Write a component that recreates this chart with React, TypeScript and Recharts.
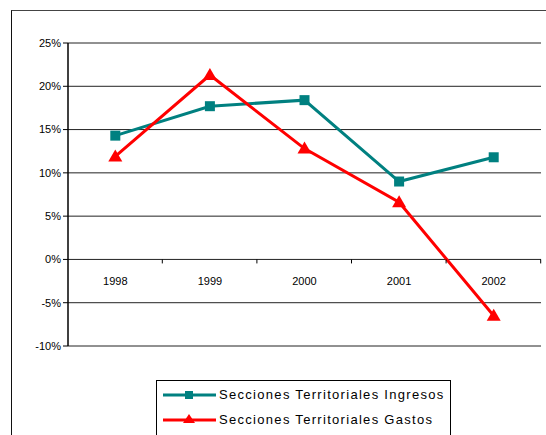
import React from "react";
import {
  LineChart,
  Line,
  XAxis,
  YAxis,
  CartesianGrid,
  Legend,
  ReferenceDot,
} from "recharts";

const years = ["1998", "1999", "2000", "2001", "2002"];
const ingresos = [14.3, 17.7, 18.4, 9.0, 11.8];
const gastos = [11.9, 21.3, 12.8, 6.6, -6.5];
const yTicks = [-10, -5, 0, 5, 10, 15, 20, 25];

const TEAL = "#008080";
const RED = "#ff0000";
const FONT = "'Liberation Sans', Arial, sans-serif";

const data = years.map((y, i) => ({
  year: y,
  ingresos: ingresos[i],
  gastos: gastos[i],
}));

const Square = (p: any) => (
  <rect key={p.index} x={p.cx - 5} y={p.cy - 5} width={10} height={10} fill={TEAL} />
);

const Triangle = (p: any) => (
  <polygon
    key={p.index}
    points={`${p.cx},${p.cy - 7} ${p.cx - 7},${p.cy + 5} ${p.cx + 7},${p.cy + 5}`}
    fill={RED}
  />
);

// year label under the zero line plus a tick between categories
const YearMark = (p: any) => (
  <g>
    <text
      x={p.cx}
      y={p.cy + 26}
      textAnchor="middle"
      fontSize={11}
      fontFamily={FONT}
      fill="#000"
    >
      {p.label}
    </text>
    <line x1={p.cx + 47} x2={p.cx + 47} y1={p.cy} y2={p.cy + 4} stroke="#000" />
  </g>
);

const series = [
  { name: "Secciones Territoriales Ingresos", color: TEAL, shape: "square" },
  { name: "Secciones Territoriales Gastos", color: RED, shape: "triangle" },
];

const LegendBox = () => (
  <div
    style={{
      border: "1px solid #000",
      borderBottom: "none",
      width: 295,
      height: 60,
      boxSizing: "border-box",
      paddingTop: 1,
      fontFamily: FONT,
      background: "#fff",
    }}
  >
    {series.map((s) => (
      <div key={s.name} style={{ display: "flex", alignItems: "center", height: 25 }}>
        <svg width={56} height={14} style={{ marginLeft: 6 }}>
          <line x1={0} x2={53} y1={7} y2={7} stroke={s.color} strokeWidth={3} />
          {s.shape === "square" ? (
            <rect x={22} y={3} width={8} height={8} fill={s.color} />
          ) : (
            <polygon points="26,1 20,10 32,10" fill={s.color} />
          )}
        </svg>
        <span style={{ fontSize: 13, letterSpacing: 1.3, color: "#000" }}>{s.name}</span>
      </div>
    ))}
  </div>
);

export default function App() {
  return (
    <div style={{ position: "absolute", left: 0, top: 0, width: 546, height: 435, background: "#fff", overflow: "hidden" }}>
      <div
        style={{
          position: "absolute",
          left: 11,
          top: 10,
          width: 600,
          height: 500,
          borderLeft: "1.5px solid #111",
          borderTop: "1.5px solid #444",
        }}
      />
      <LineChart
        width={546}
        height={435}
        data={data}
        margin={{ top: 43, right: 5, left: 0, bottom: 89 }}
        style={{ position: "absolute", left: 0, top: 0 }}
      >
        <CartesianGrid vertical={false} stroke="#222" strokeDasharray="" />
        <XAxis dataKey="year" scale="band" hide />
        <YAxis
          width={68}
          domain={[-10, 25]}
          ticks={yTicks}
          interval={0}
          tickFormatter={(v: number) => `${v}%`}
          tick={{ fontSize: 11, fill: "#000", fontFamily: FONT }}
          axisLine={{ stroke: "#000", strokeWidth: 1.5 }}
          tickLine={{ stroke: "#000" }}
          tickSize={5}
        />
        <YAxis
          yAxisId="edge"
          orientation="right"
          width={0}
          domain={[-10, 25]}
          tick={false}
          tickLine={false}
          axisLine={{ stroke: "#999", strokeWidth: 2 }}
        />
        {years.map((y) => (
          <ReferenceDot
            key={y}
            x={y}
            y={0}
            r={0}
            shape={(p: any) => <YearMark {...p} label={y} />}
          />
        ))}
        <Line
          dataKey="ingresos"
          name={series[0].name}
          stroke={TEAL}
          strokeWidth={3}
          dot={Square}
          activeDot={false}
          isAnimationActive={false}
        />
        <Line
          dataKey="gastos"
          name={series[1].name}
          stroke={RED}
          strokeWidth={3}
          dot={Triangle}
          activeDot={false}
          isAnimationActive={false}
        />
        <Legend
          layout="vertical"
          align="center"
          verticalAlign="middle"
          content={() => <LegendBox />}
          wrapperStyle={{ left: 156, top: 380, width: 296, height: 60 }}
        />
      </LineChart>
    </div>
  );
}
